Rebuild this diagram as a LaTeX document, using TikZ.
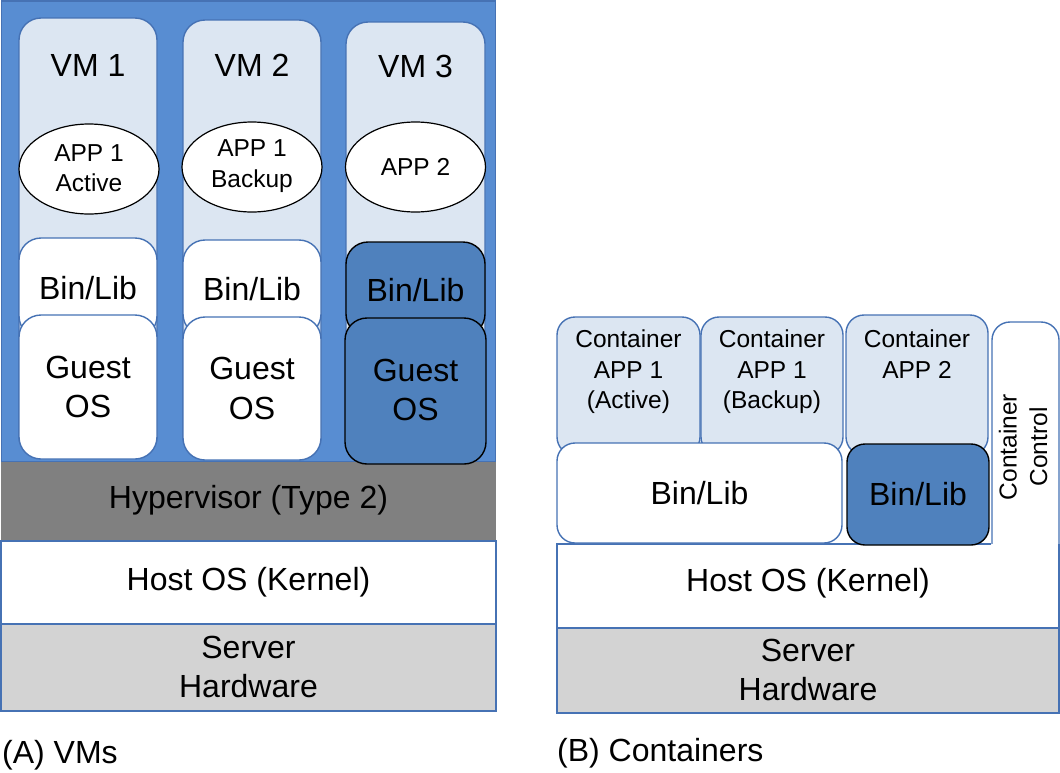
\documentclass[tikz,border=0pt]{standalone}
\usepackage{fontspec}
\setmainfont{Liberation Sans}
\usetikzlibrary{shapes.geometric}
\definecolor{outerblue}{RGB}{88,141,210}
\definecolor{lineblue}{RGB}{70,114,180}
\definecolor{lightblue}{RGB}{220,230,242}
\definecolor{darkblue}{RGB}{79,129,189}
\definecolor{hypgray}{RGB}{128,128,128}
\definecolor{hwgray}{RGB}{211,211,211}
\tikzset{
  big/.style={font=\fontsize{32}{39.5}\selectfont, align=center, inner sep=0pt},
  small/.style={font=\fontsize{24.5}{30.5}\selectfont, align=center, inner sep=0pt},
  layer/.style={draw=lineblue, line width=1.4pt, inner sep=0pt, outer sep=0pt},
  vmbox/.style={draw=lineblue, fill=lightblue, line width=1.4pt, rounded corners=22pt, inner sep=0pt},
  whitebox/.style={draw=lineblue, fill=white, line width=1.4pt, rounded corners=22pt, inner sep=0pt},
  darkbox/.style={draw=black, fill=darkblue, line width=1.4pt, rounded corners=22pt, inner sep=0pt},
  cbox/.style={draw=lineblue, fill=lightblue, line width=1.4pt, rounded corners=18pt, inner sep=0pt},
  cwhite/.style={draw=lineblue, fill=white, line width=1.4pt, rounded corners=18pt, inner sep=0pt},
  cdark/.style={draw=black, fill=darkblue, line width=1.4pt, rounded corners=18pt, inner sep=0pt},
  appell/.style={ellipse, draw=black, fill=white, line width=1.2pt, minimum width=140pt, minimum height=90pt, inner sep=0pt}
}
\begin{document}
\begin{tikzpicture}[x=1pt,y=-1pt]
\useasboundingbox (0,0) rectangle (1060,772);
% ---------------- (A) VMs ----------------
\node[layer, fill=outerblue, minimum width=494pt, minimum height=461pt] (outer) at (248.5,231.5) {};
\node[layer, draw=none, fill=hypgray, minimum width=495pt, minimum height=79pt] (hyp) at (248.5,501.5) {};
\node[big] (hyptext) at (248.5,500) {Hypervisor (Type 2)};
\node[layer, fill=white, minimum width=495pt, minimum height=83pt] (hostA) at (248.5,582.5) {};
\node[big] (hostAtext) at (248.5,582) {Host OS (Kernel)};
\node[layer, fill=hwgray, minimum width=495pt, minimum height=87pt] (hwA) at (248.5,667.5) {};
\node[big] (hwAtext) at (248.5,667) {Server\\Hardware};

% VM columns
\node[vmbox, minimum width=138pt, minimum height=440pt] (vm1) at (88,238) {};
\node[vmbox, minimum width=138pt, minimum height=438pt] (vm2) at (252,239) {};
\node[vmbox, minimum width=139pt, minimum height=436pt] (vm3) at (415.5,240) {};
\node[big] (vm1t) at (88,65) {VM 1};
\node[big] (vm2t) at (252,65) {VM 2};
\node[big] (vm3t) at (415.5,66) {VM 3};
\node[appell] (app1) at (89,169) {};
\node[small] (app1t) at (89,168) {APP 1\\Active};
\node[appell] (app2) at (252,167) {};
\node[small] (app2t) at (252,166) {APP 1\\Backup};
\node[appell] (app3) at (415.5,167) {};
\node[small] (app3t) at (415.5,167) {APP 2};

\node[whitebox, minimum width=138pt, minimum height=100pt] (bl1) at (88,288) {};
\node[big] (bl1t) at (88,288) {Bin/Lib};
\node[whitebox, minimum width=138pt, minimum height=96pt] (bl2) at (252,288) {};
\node[big] (bl2t) at (252,289) {Bin/Lib};
\node[darkbox, minimum width=139pt, minimum height=94pt] (bl3) at (415.5,289) {};
\node[big] (bl3t) at (415.5,290) {Bin/Lib};

\node[whitebox, minimum width=138pt, minimum height=144pt] (g1) at (88,387) {};
\node[big] (g1t) at (88,387) {Guest\\OS};
\node[whitebox, minimum width=138pt, minimum height=143pt] (g2) at (252,388.5) {};
\node[big] (g2t) at (252,388.5) {Guest\\OS};
\node[darkbox, minimum width=141pt, minimum height=146pt] (g3) at (415.5,391) {};
\node[big] (g3t) at (415.5,390) {Guest\\OS};

\node[big, anchor=west] (capA) at (2,755) {(A) VMs};

% ---------------- (B) Containers ----------------
\node[cwhite, minimum width=67pt, minimum height=310pt] (ctl) at (1025.5,477) {};
\node[layer, draw=none, fill=white, minimum width=502pt, minimum height=84pt] (hostB) at (808,586) {};
\draw[draw=lineblue, line width=1.4pt] (ctl.west |- hostB.north) -- (hostB.north west) -- (hostB.south west) -- (hostB.south east) -- (hostB.north east);
\node[small, rotate=90] (ctlt) at (1023,447) {Container\\Control};
\node[big] (hostBt) at (808,583) {Host OS (Kernel)};
\node[layer, fill=hwgray, minimum width=502pt, minimum height=85pt] (hwB) at (808,670.5) {};
\node[big] (hwBt) at (808,670) {Server\\Hardware};

\node[cbox, minimum width=143pt, minimum height=138pt] (c1) at (628.5,386) {};
\node[small] (c1t) at (628.5,372) {Container\\APP 1\\(Active)};
\node[cbox, minimum width=142pt, minimum height=138pt] (c2) at (772,386) {};
\node[small] (c2t) at (772,372) {Container\\APP 1\\(Backup)};
\node[cbox, minimum width=142pt, minimum height=140pt] (c3) at (917,385) {};
\node[small] (c3t) at (917,354) {Container\\APP 2};

\node[cwhite, minimum width=285pt, minimum height=100pt] (blc) at (699.5,493) {};
\node[big] (blct) at (699.5,493) {Bin/Lib};
\node[cdark, minimum width=142pt, minimum height=101pt] (bld) at (918,494.5) {};
\node[big] (bldt) at (918,494.5) {Bin/Lib};

\node[big, anchor=west] (capB) at (557,753) {(B) Containers};
\end{tikzpicture}
\end{document}
